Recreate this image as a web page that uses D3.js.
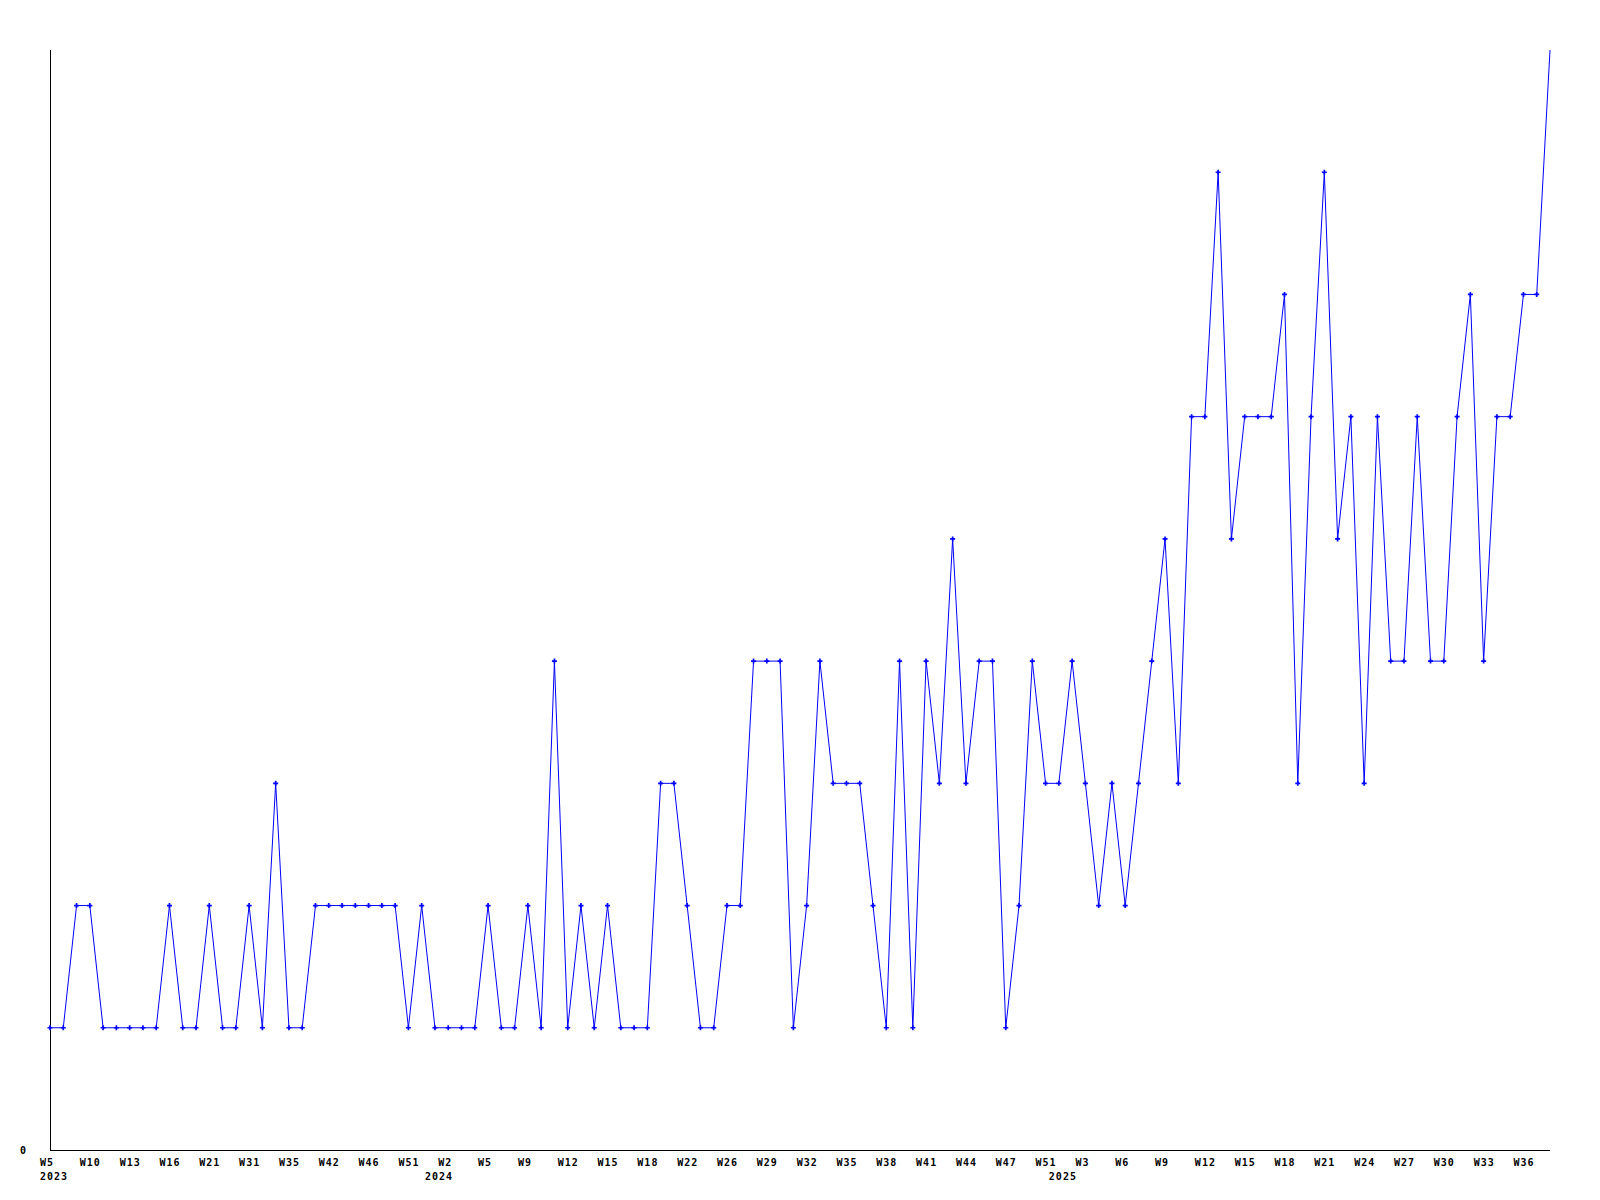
<!DOCTYPE html>
<html>
<head>
<meta charset="utf-8">
<script src="https://cdn.jsdelivr.net/npm/d3@7"></script>
<style>
	body { margin: 0; background: #fff; }
	text { font-family: "DejaVu Sans Mono", monospace; font-weight: bold; font-size: 10px; letter-spacing: 1px; fill: #000; }
</style>
</head>
<body>
<svg id="chart" width="1600" height="1200"></svg>
<script>
width = 1600;
height = 1200;

left = 50;
right = 1550;
top_y = 50;
bottom = 1150;
yMax = 9;

// weeks that have data, per year
weeks2023 = ['W5','W7','W8','W10','W11','W12','W13','W14','W15','W16','W18','W19','W21','W25','W28',
	'W31','W32','W33','W35','W37','W40','W42','W43','W44','W46','W48','W49','W51','W52'];
weeks2024 = ['W1','W2','W3','W4','W5','W7','W8','W9','W10','W11','W12','W13','W14','W15','W16','W17',
	'W18','W20','W21','W22','W24','W25','W26','W27','W28','W29','W30','W31','W32','W33','W34','W35',
	'W36','W37','W38','W39','W40','W41','W42','W43','W44','W45','W46','W47','W49','W50','W51'];
weeks2025 = ['W1','W2','W3','W4','W5','W6','W7','W8','W9','W10','W11','W12','W13','W14','W15','W16',
	'W17','W18','W19','W20','W21','W22','W23','W24','W25','W26','W27','W28','W29','W30','W31','W32',
	'W33','W34','W35','W36','W37','W38'];

values = [1,1,2,2,1,1,1,1,1,2,1,1,2,1,1,2,1,3,1,1,2,2,2,2,2,2,2,1,2,
	1,1,1,1,2,1,1,2,1,4,1,2,1,2,1,1,1,3,3,2,1,1,2,2,4,4,4,1,2,4,3,3,3,2,1,4,1,4,3,5,3,4,4,1,2,4,3,
	3,4,3,2,3,2,3,4,5,3,6,6,8,5,6,6,6,7,3,6,8,5,6,3,6,4,4,6,4,4,6,7,4,6,6,7,7,9];

yTicks = [0];

points = [];
[[2023, weeks2023], [2024, weeks2024], [2025, weeks2025]].forEach(function(yw){
	yw[1].forEach(function(w, j){
		points.push({year: yw[0], week: w, first: j == 0});
	});
});
points.forEach(function(p, i){ p.value = values[i]; p.i = i; });

svg = d3.select('#chart');

x = d3.scaleLinear()
	.domain([0, points.length - 1])
	.range([left, right]);
y = d3.scaleLinear()
	.domain([0, yMax])
	.range([bottom, top_y]);

// axes
svg.append('line')
	.attr('x1', left + 0.5).attr('x2', left + 0.5)
	.attr('y1', top_y).attr('y2', bottom + 0.5)
	.attr('stroke', '#000')
	.attr('shape-rendering', 'crispEdges');
svg.append('line')
	.attr('x1', left).attr('x2', right)
	.attr('y1', bottom + 0.5).attr('y2', bottom + 0.5)
	.attr('stroke', '#000')
	.attr('shape-rendering', 'crispEdges');

svg.selectAll('.ylab')
	.data(yTicks)
	.enter().append('text')
		.attr('class', 'ylab')
		.attr('x', 20)
		.attr('y', function(d){ return y(d) + 3.5; })
		.text(function(d){ return d; });

svg.selectAll('.xlab')
	.data(points.filter(function(p){ return p.i % 3 == 0; }))
	.enter().append('text')
		.attr('class', 'xlab')
		.attr('x', function(p){ return x(p.i) - 10; })
		.attr('y', 1165.5)
		.text(function(p){ return p.week; });

svg.selectAll('.yearlab')
	.data(points.filter(function(p){ return p.first; }))
	.enter().append('text')
		.attr('class', 'yearlab')
		.attr('x', function(p){ return x(p.i) - 10; })
		.attr('y', 1179.5)
		.text(function(p){ return p.year; });

// series
line = d3.line()
	.x(function(p){ return x(p.i); })
	.y(function(p){ return y(p.value); });

svg.append('path')
	.datum(points)
	.attr('d', line)
	.attr('fill', 'none')
	.attr('stroke', '#0000ff')
	.attr('stroke-width', 1);

// the point on the top edge gets no marker
marker = d3.symbol().type(d3.symbolCross).size(14);
svg.selectAll('.pt')
	.data(points.filter(function(p){ return p.value < yMax; }))
	.enter().append('path')
		.attr('class', 'pt')
		.attr('d', marker)
		.attr('transform', function(p){ return `translate(${x(p.i)}, ${y(p.value)})`; })
		.attr('fill', '#0000ff');
</script>
</body>
</html>
